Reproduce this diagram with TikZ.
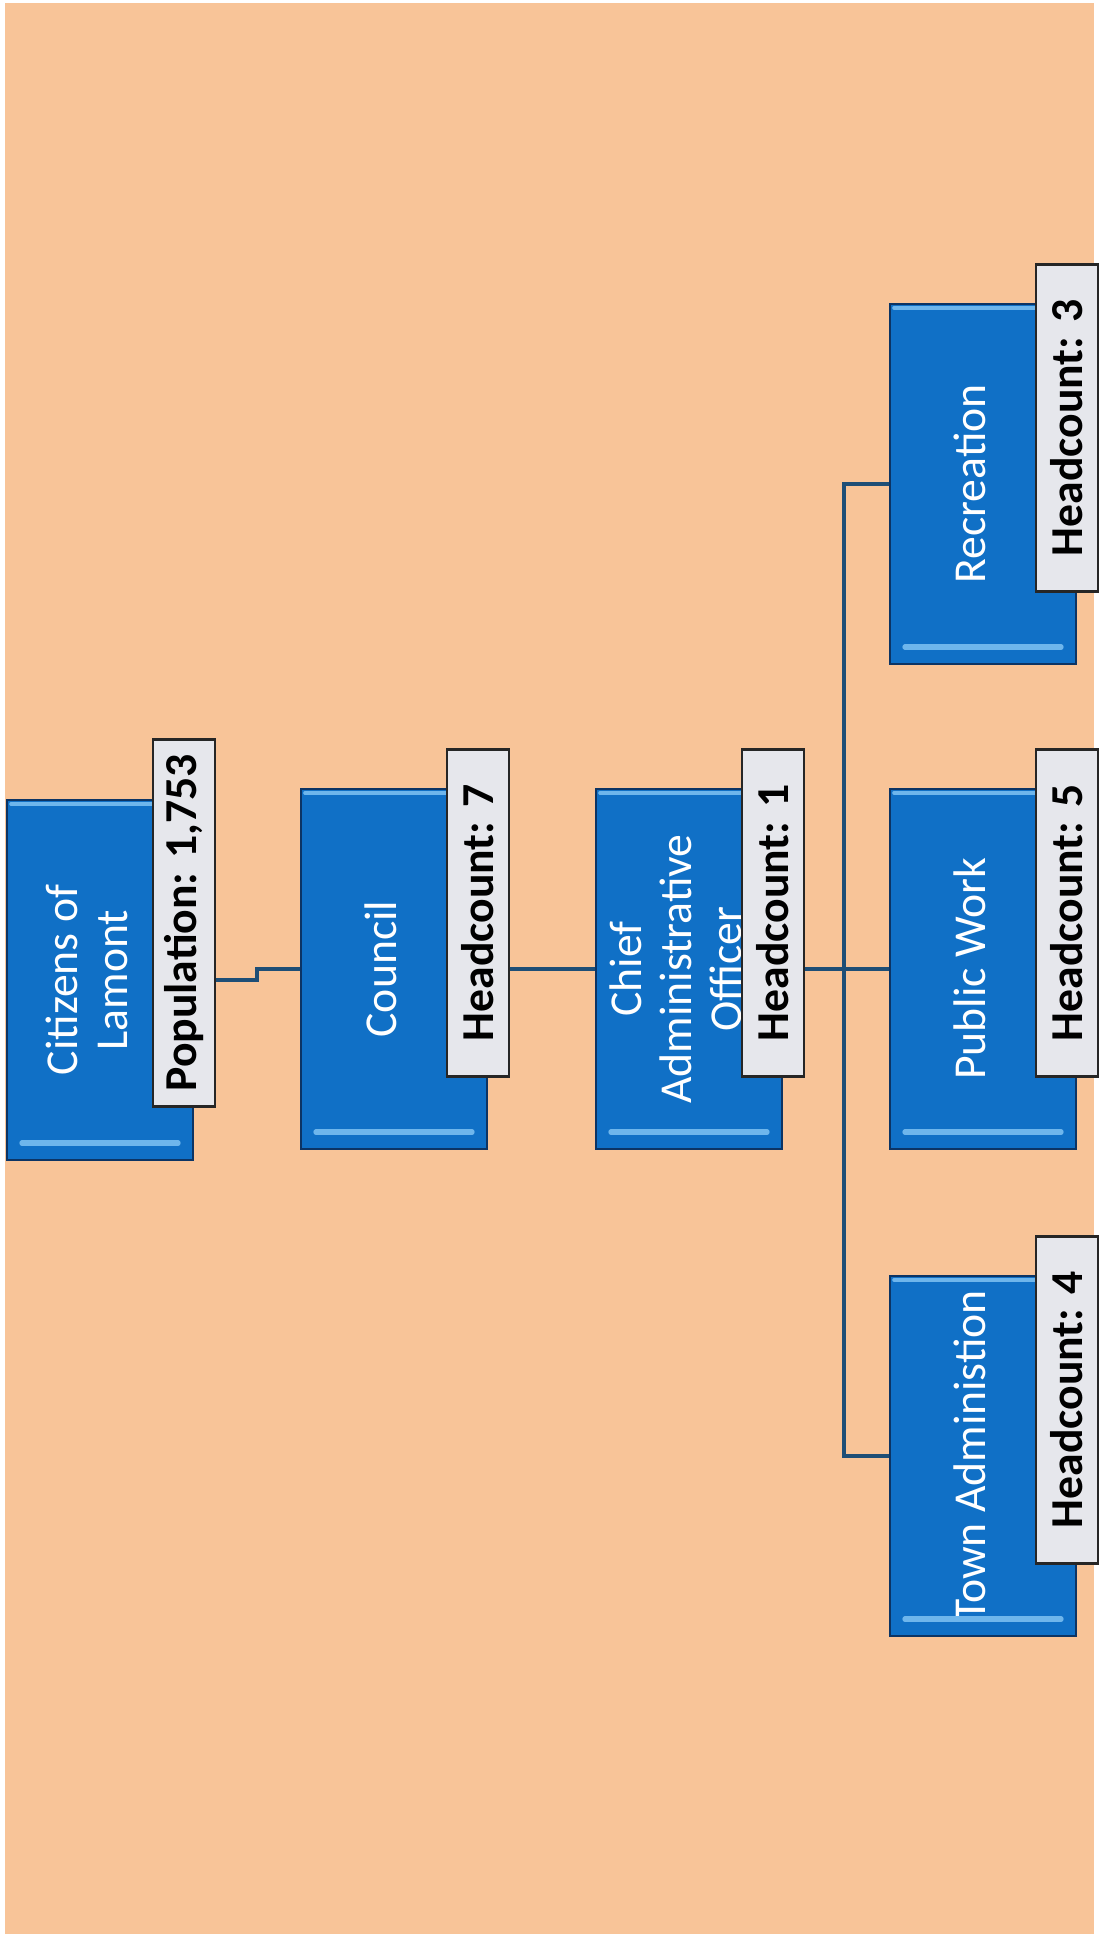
\documentclass[tikz,border=0pt]{standalone}
\usepackage{fontspec}
\setmainfont{Carlito}
\usetikzlibrary{calc}

\definecolor{peach}{RGB}{248,196,152}
\definecolor{boxblue}{RGB}{16,112,198}
\definecolor{boxedge}{RGB}{12,52,100}
\definecolor{bevel}{RGB}{110,182,236}
\definecolor{linkblue}{RGB}{30,78,118}
\definecolor{taggrey}{RGB}{230,231,236}

\tikzset{
	unit/.style={rectangle, rotate=90, fill=boxblue, draw=boxedge, line width=1.2pt, text=white,
		minimum width=7.2cm, minimum height=3.72cm, align=center, text depth=15pt,
		font=\fontsize{26}{28.5}\selectfont},
	tag/.style={rectangle, rotate=90, fill=taggrey, draw=black!85, line width=1.6pt,
		minimum width=6.54cm, minimum height=1.24cm, inner xsep=0.3cm,
		font=\fontsize{26}{28}\selectfont\bfseries},
	link/.style={draw=linkblue, line width=2.2pt},
	shine/.style={draw=bevel, line width=2pt, line cap=round}
}

\begin{document}
\begin{tikzpicture}[x=0.02cm,y=-0.02cm]
		\useasboundingbox (0,0) rectangle (1099,1938);
		\fill[peach] (5,3) rectangle (1094,1934);
		
		% units (rotated: north = left side, east = top side)
		\node[unit] (citizens) at (100,980) {Citizens of\\Lamont};
		\node[unit] (council) at (394,969) {Council};
		\node[unit] (cao) at (689,969) {Chief\\Administrative\\Officer};
		\node[unit] (recreation) at (983,484) {Recreation};
		\node[unit] (publicwork) at (983,969) {Public Work};
		\node[unit] (townadmin) at (983,1456) {Town Administion};
		
		\foreach \n in {citizens,council,cao,recreation,publicwork,townadmin}{
			\draw[shine] ([shift={(5,5)}]\n.north east) -- ([shift={(-5,5)}]\n.south east);
			\draw[shine,line width=3pt] ([shift={(16,-18)}]\n.north west) -- ([shift={(-16,-18)}]\n.south west);
		}
		
		% labels
		\node[tag] (citizens-tag) at ($(citizens)+(84,-57)$) {Population: 1,753};
		\node[tag] (council-tag) at ($(council)+(84,-56)$) {Headcount: 7};
		\node[tag] (cao-tag) at ($(cao)+(84,-56)$) {Headcount: 1};
		\node[tag] (recreation-tag) at ($(recreation)+(84,-56)$) {Headcount: 3};
		\node[tag] (publicwork-tag) at ($(publicwork)+(84,-56)$) {Headcount: 5};
		\node[tag] (townadmin-tag) at ($(townadmin)+(84,-56)$) {Headcount: 4};
		
		% links
		\coordinate (jog) at (257,980);
		\coordinate (bus) at (844,969);
		\draw[link] (citizens-tag.south |- citizens) -- (jog) |- (council.north);
		\draw[link] (council-tag.south |- council) -- (cao.north);
		\draw[link] (cao-tag.south |- cao) -- (bus);
		\draw[link] (bus) |- (recreation.north);
		\draw[link] (bus) |- (publicwork.north);
		\draw[link] (bus) |- (townadmin.north);
\end{tikzpicture}
\end{document}
